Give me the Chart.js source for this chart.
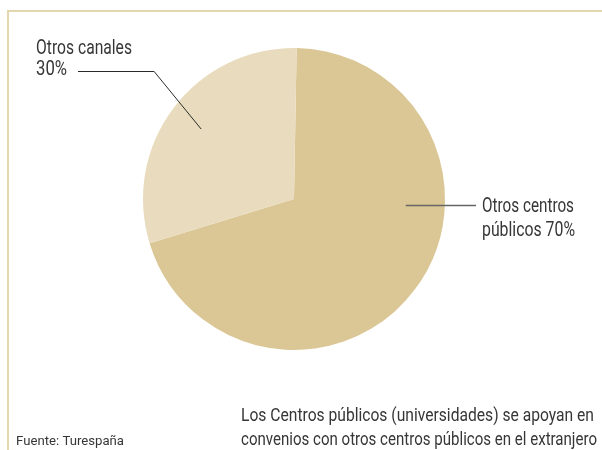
<!DOCTYPE html>
<html><head><meta charset="utf-8">
<script src="https://cdn.jsdelivr.net/npm/chart.js@4"></script>
<style>html,body{margin:0;padding:0;background:#fff;}#wrap{width:602px;height:450px;position:relative;}</style>
</head><body><div id="wrap"><canvas id="c" width="602" height="450"></canvas></div>
<script>
const categories = ["Otros centros públicos", "Otros canales"];
const values = [70, 30];
const labelLines = [["Otros centros", "públicos 70%"], ["Otros canales", "30%"]];
const colors = ["#dbc795", "#e9dcbe"];
const source = "Fuente: Turespaña";
const note = ["Los Centros públicos (universidades) se apoyan en", "convenios con otros centros públicos en el extranjero"];

const FONT = 'Roboto, "Liberation Sans", sans-serif';
const TXT = '#363636';

function drawFit(ctx, txt, x, y, size, width) {
  ctx.save();
  ctx.font = size + 'px ' + FONT;
  const sx = width / ctx.measureText(txt).width;
  ctx.translate(x, y);
  ctx.scale(sx, 1);
  ctx.fillText(txt, 0, 0);
  ctx.restore();
}

const deco = {
  id: 'deco',
  beforeDraw(chart) {
    const ctx = chart.ctx;
    ctx.save();
    ctx.strokeStyle = '#e4d6ae';
    ctx.lineWidth = 2;
    ctx.beginPath();
    ctx.moveTo(602, 11); ctx.lineTo(8, 11); ctx.lineTo(8, 450);
    ctx.stroke();
    ctx.restore();
  },
  afterDraw(chart) {
    const ctx = chart.ctx;
    const meta = chart.getDatasetMeta(0);
    ctx.save();
    const a1 = meta.data[1];
    const m1 = (a1.startAngle + a1.endAngle) / 2;
    const p1 = {x: a1.x + Math.cos(m1) * a1.outerRadius * 0.77, y: a1.y + Math.sin(m1) * a1.outerRadius * 0.77};
    ctx.strokeStyle = '#2a2a2a';
    ctx.lineWidth = 1;
    ctx.beginPath();
    ctx.moveTo(78, 71.5); ctx.lineTo(p1.x - 47, 71.5); ctx.lineTo(p1.x, p1.y);
    ctx.stroke();
    const a0 = meta.data[0];
    const p0x = a0.x + a0.outerRadius * 0.74;
    ctx.strokeStyle = '#666';
    ctx.lineWidth = 1.3;
    ctx.beginPath();
    ctx.moveTo(p0x, 205.5); ctx.lineTo(476, 205.5);
    ctx.stroke();

    ctx.fillStyle = TXT;
    ctx.textBaseline = 'alphabetic';
    ctx.textAlign = 'left';
    drawFit(ctx, labelLines[1][0], 36, 54, 20.5, 96);
    drawFit(ctx, labelLines[1][1], 36, 75, 20.5, 31);
    drawFit(ctx, labelLines[0][0], 482, 212, 20.5, 92);
    drawFit(ctx, labelLines[0][1], 482, 236, 20.5, 93);
    drawFit(ctx, note[0], 241, 421, 17.5, 353);
    drawFit(ctx, note[1], 241, 445, 17.5, 356);
    drawFit(ctx, source, 16, 445, 13.5, 108);
    ctx.restore();
  }
};

new Chart(document.getElementById('c'), {
  type: 'pie',
  data: { labels: categories, datasets: [{ data: values, backgroundColor: colors, borderWidth: 0 }] },
  options: {
    responsive: false,
    animation: false,
    rotation: 1,
    layout: { padding: { left: 143, right: 157, top: 48, bottom: 100 } },
    plugins: { legend: { display: false }, tooltip: { enabled: false } }
  },
  plugins: [deco]
});
</script></body></html>
